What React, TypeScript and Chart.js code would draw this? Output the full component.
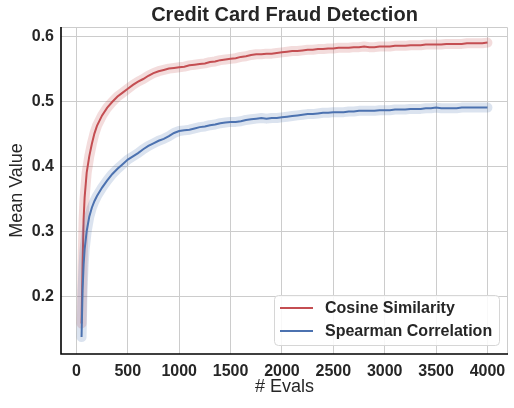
import React, { useEffect, useRef } from "react";
import { Chart, registerables } from "chart.js";

Chart.register(...registerables);

const TITLE = "Credit Card Fraud Detection";
const X_LABEL = "# Evals";
const Y_LABEL = "Mean Value";
const SERIES_NAMES = ["Cosine Similarity", "Spearman Correlation"];

const evals = [
  50, 60, 70, 80, 100, 125, 150, 175, 200,
  250, 300, 350, 400, 450, 500, 550, 600, 650, 700,
  750, 800, 850, 900, 950, 1000, 1050, 1100, 1150, 1200,
  1250, 1300, 1350, 1400, 1450, 1500, 1550, 1600, 1650, 1700,
  1750, 1800, 1850, 1900, 1950, 2000, 2050, 2100, 2150, 2200,
  2250, 2300, 2350, 2400, 2450, 2500, 2550, 2600, 2650, 2700,
  2750, 2800, 2850, 2900, 2950, 3000, 3050, 3100, 3150, 3200,
  3250, 3300, 3350, 3400, 3450, 3500, 3550, 3600, 3650, 3700,
  3750, 3800, 3850, 3900, 3950, 4000,
];

const cosineSimilarity = [
  0.158, 0.25, 0.318, 0.352, 0.39, 0.415, 0.434, 0.45, 0.462,
  0.478, 0.49, 0.499, 0.507, 0.513, 0.519, 0.525, 0.53, 0.534, 0.539,
  0.543, 0.546, 0.548, 0.55, 0.551, 0.552, 0.553, 0.555, 0.556, 0.557,
  0.558, 0.56, 0.561, 0.563, 0.564, 0.565, 0.566, 0.568, 0.569, 0.571,
  0.572, 0.572, 0.573, 0.573, 0.574, 0.575, 0.576, 0.577, 0.577, 0.578,
  0.579, 0.579, 0.58, 0.58, 0.581, 0.581, 0.582, 0.582, 0.582, 0.583,
  0.583, 0.584, 0.583, 0.583, 0.584, 0.584, 0.584, 0.585, 0.585, 0.585,
  0.586, 0.586, 0.586, 0.587, 0.587, 0.587, 0.587, 0.588, 0.588, 0.588,
  0.588, 0.589, 0.589, 0.589, 0.589, 0.59,
];

const spearmanCorrelation = [
  0.137, 0.21, 0.248, 0.272, 0.3, 0.322, 0.336, 0.346, 0.354,
  0.367, 0.378, 0.388, 0.396, 0.403, 0.41, 0.415, 0.42, 0.426, 0.431,
  0.435, 0.439, 0.442, 0.446, 0.451, 0.454, 0.455, 0.456, 0.458, 0.46,
  0.461, 0.463, 0.464, 0.466, 0.467, 0.468, 0.468, 0.469, 0.471, 0.472,
  0.473, 0.474, 0.473, 0.474, 0.474, 0.475, 0.476, 0.477, 0.478, 0.479,
  0.48, 0.48, 0.481, 0.482, 0.482, 0.483, 0.483, 0.483, 0.484, 0.484,
  0.485, 0.485, 0.485, 0.485, 0.486, 0.486, 0.486, 0.487, 0.487, 0.487,
  0.488, 0.488, 0.488, 0.489, 0.489, 0.49, 0.489, 0.489, 0.489, 0.489,
  0.49, 0.49, 0.49, 0.49, 0.49, 0.49,
];

const xTicks = [0, 500, 1000, 1500, 2000, 2500, 3000, 3500, 4000];
const yTicks = [0.2, 0.3, 0.4, 0.5, 0.6];

const RED = "#c44e52";
const BLUE = "#4c72b0";
const RED_BAND = "rgba(196,78,82,0.2)";
const BLUE_BAND = "rgba(76,114,176,0.2)";
const TEXT = "#262626";
const FONT = "'Liberation Sans', Arial, sans-serif";

const toPts = (ys: number[]) => ys.map((y, i) => ({ x: evals[i], y }));

export default function App() {
  const ref = useRef<HTMLCanvasElement | null>(null);

  useEffect(() => {
    if (!ref.current) return;

    const framePlugin = {
      id: "frameAndExtras",
      afterDatasetsDraw(chart: any) {
        const { ctx, chartArea: a } = chart;
        ctx.save();
        ctx.strokeStyle = "#cccccc";
        ctx.lineWidth = 1;
        ctx.beginPath();
        ctx.moveTo(a.left, a.top + 0.5);
        ctx.lineTo(a.right - 0.5, a.top + 0.5);
        ctx.lineTo(a.right - 0.5, a.bottom);
        ctx.stroke();
        ctx.strokeStyle = "#000000";
        ctx.lineWidth = 1.6;
        ctx.beginPath();
        ctx.moveTo(a.left, a.top);
        ctx.lineTo(a.left, a.bottom);
        ctx.lineTo(a.right, a.bottom);
        ctx.stroke();
        ctx.restore();
      },
      afterDraw(chart: any) {
        const { ctx, chartArea: a } = chart;
        ctx.save();
        ctx.fillStyle = TEXT;
        ctx.font = `bold 20px ${FONT}`;
        ctx.textAlign = "center";
        ctx.textBaseline = "middle";
        ctx.fillText(TITLE, (a.left + a.right) / 2, 15);
        const bx = 274.5, by = 295.5, bw = 225, bh = 50, r = 4;
        ctx.beginPath();
        ctx.moveTo(bx + r, by);
        ctx.lineTo(bx + bw - r, by);
        ctx.arcTo(bx + bw, by, bx + bw, by + r, r);
        ctx.lineTo(bx + bw, by + bh - r);
        ctx.arcTo(bx + bw, by + bh, bx + bw - r, by + bh, r);
        ctx.lineTo(bx + r, by + bh);
        ctx.arcTo(bx, by + bh, bx, by + bh - r, r);
        ctx.lineTo(bx, by + r);
        ctx.arcTo(bx, by, bx + r, by, r);
        ctx.closePath();
        ctx.fillStyle = "rgba(255,255,255,0.85)";
        ctx.fill();
        ctx.strokeStyle = "#d6d6d6";
        ctx.lineWidth = 1;
        ctx.stroke();
        const colors = [RED, BLUE];
        const rowsY = [308, 331];
        SERIES_NAMES.forEach((name, i) => {
          ctx.strokeStyle = colors[i];
          ctx.lineWidth = 2;
          ctx.beginPath();
          ctx.moveTo(280, rowsY[i]);
          ctx.lineTo(313, rowsY[i]);
          ctx.stroke();
          ctx.fillStyle = TEXT;
          ctx.font = `bold 16px ${FONT}`;
          ctx.textAlign = "left";
          ctx.textBaseline = "middle";
          ctx.fillText(name, 325, rowsY[i] + 1);
        });
        ctx.restore();
      },
    };

    const chart = new Chart(ref.current, {
      type: "line",
      data: {
        datasets: [
          {
            label: SERIES_NAMES[1],
            data: toPts(spearmanCorrelation),
            borderColor: BLUE,
            borderWidth: 2,
            pointRadius: 0,
            order: 0,
          },
          {
            label: SERIES_NAMES[1] + " band",
            data: toPts(spearmanCorrelation),
            borderColor: BLUE_BAND,
            borderWidth: 10,
            borderCapStyle: "round",
            borderJoinStyle: "round",
            pointRadius: 0,
            order: 1,
          },
          {
            label: SERIES_NAMES[0],
            data: toPts(cosineSimilarity),
            borderColor: RED,
            borderWidth: 2,
            pointRadius: 0,
            order: 2,
          },
          {
            label: SERIES_NAMES[0] + " band",
            data: toPts(cosineSimilarity),
            borderColor: RED_BAND,
            borderWidth: 10,
            borderCapStyle: "round",
            borderJoinStyle: "round",
            pointRadius: 0,
            order: 3,
          },
        ] as any,
      },
      options: {
        animation: false,
        responsive: false,
        devicePixelRatio: 1,
        layout: { padding: { left: 0, right: 6, top: 27, bottom: 0 } },
        plugins: {
          legend: { display: false },
          title: { display: false },
          tooltip: { enabled: false },
        },
        scales: {
          x: {
            type: "linear",
            min: -150,
            max: 4200,
            afterBuildTicks: (s: any) => {
              s.ticks = xTicks.map((v) => ({ value: v }));
            },
            afterFit: (s: any) => {
              s.height = 54;
            },
            grid: { color: "#cccccc", lineWidth: 1, drawTicks: false },
            border: { display: false },
            ticks: {
              padding: 8,
              color: TEXT,
              font: { family: FONT, size: 16, weight: "bold" },
              maxRotation: 0,
              callback: (v: any) => String(v),
            },
            title: {
              display: true,
              text: X_LABEL,
              color: TEXT,
              font: { family: FONT, size: 18 },
              padding: { top: 0, bottom: 10 },
            },
          },
          y: {
            type: "linear",
            min: 0.111,
            max: 0.614,
            afterBuildTicks: (s: any) => {
              s.ticks = yTicks.map((v) => ({ value: v }));
            },
            afterFit: (s: any) => {
              s.width = 61;
            },
            grid: { color: "#cccccc", lineWidth: 1, drawTicks: false },
            border: { display: false },
            ticks: {
              padding: 7,
              color: TEXT,
              font: { family: FONT, size: 16, weight: "bold" },
              callback: (v: any) => Number(v).toFixed(1),
            },
            title: {
              display: true,
              text: Y_LABEL,
              color: TEXT,
              font: { family: FONT, size: 18 },
              padding: { top: 6, bottom: 0 },
            },
          },
        },
      } as any,
      plugins: [framePlugin],
    });
    return () => chart.destroy();
  }, []);

  return (
    <canvas
      ref={ref}
      width={514}
      height={408}
      style={{ position: "absolute", left: 0, top: 0, width: 514, height: 408 }}
    />
  );
}
